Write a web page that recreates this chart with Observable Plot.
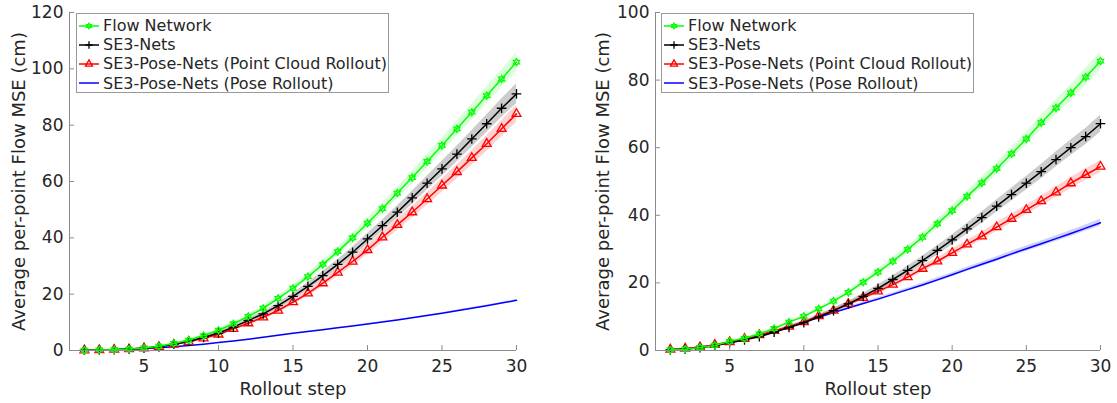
<!DOCTYPE html>
<html><head><meta charset="utf-8">
<script src="https://cdn.jsdelivr.net/npm/d3@7"></script>
<script src="https://cdn.jsdelivr.net/npm/@observablehq/plot@0.6"></script>
<style>
body{margin:0;background:#fff;font-family:"DejaVu Sans",sans-serif;}
#wrap{position:relative;width:1117px;height:403px;display:flex;overflow:hidden;}
.legend{position:absolute;top:13px;width:311px;height:76px;border:1px solid #999;background:#fff;font-size:16px;color:#262626;padding-top:2px;}
.legend .row{height:19.2px;display:flex;align-items:center;white-space:nowrap;}
.legend svg{width:26px;height:16px;flex:none;}
</style></head><body><div id="wrap"></div>
<script>
// ---------- data ----------
const steps = [1,2,3,4,5,6,7,8,9,10,11,12,13,14,15,16,17,18,19,20,21,22,23,24,25,26,27,28,29,30];
const seriesNames = ["Flow Network","SE3-Nets","SE3-Pose-Nets (Point Cloud Rollout)","SE3-Pose-Nets (Pose Rollout)"];
const xTicks = [5,10,15,20,25,30];
const yTicksLeft = [0,20,40,60,80,100,120];
const yTicksRight = [0,20,40,60,80,100];

// left panel
const leftFlow    = [0.1,0.2,0.3,0.5,0.9,1.5,2.5,3.7,5.3,7.2,9.5,12.1,15.0,18.5,22.1,26.2,30.6,35.1,40.0,45.2,50.4,55.9,61.4,67.1,72.8,78.7,84.6,90.5,96.4,102.4];
const leftFlowStd = [0.05,0.05,0.1,0.1,0.15,0.2,0.25,0.3,0.4,0.5,0.6,0.7,0.8,0.95,1.1,1.25,1.4,1.55,1.7,1.85,2.0,2.15,2.3,2.45,2.6,2.75,2.9,3.05,3.2,3.4];
const leftSE3     = [0.1,0.2,0.3,0.5,0.8,1.3,2.2,3.3,4.6,6.2,8.3,10.7,13.0,15.9,19.2,22.8,26.6,30.6,34.9,39.6,44.3,49.1,54.2,59.4,64.5,69.7,75.1,80.5,86.0,91.1];
const leftSE3Std  = [0.05,0.05,0.1,0.1,0.15,0.2,0.25,0.3,0.4,0.5,0.6,0.7,0.85,1.0,1.15,1.3,1.45,1.6,1.75,1.9,2.05,2.2,2.35,2.5,2.65,2.8,2.95,3.1,3.3,3.5];
const leftPC      = [0.1,0.2,0.3,0.5,0.8,1.3,2.1,3.1,4.3,5.7,7.7,9.7,11.8,14.2,17.2,20.3,23.9,27.7,31.6,35.7,40.2,44.6,49.1,53.8,58.6,63.4,68.4,73.4,78.7,84.0];
const leftPCStd   = [0.05,0.05,0.1,0.1,0.15,0.2,0.25,0.3,0.35,0.45,0.55,0.65,0.75,0.85,1.0,1.1,1.25,1.4,1.55,1.7,1.85,2.0,2.1,2.25,2.4,2.5,2.6,2.75,2.9,3.0];
const leftPose    = [0.05,0.15,0.3,0.45,0.7,1.0,1.35,1.75,2.25,2.8,3.4,4.0,4.7,5.4,6.1,6.75,7.4,8.05,8.7,9.4,10.1,10.85,11.6,12.4,13.2,14.1,15.0,15.9,16.85,17.8];
const leftPoseStd = [0.02,0.02,0.03,0.03,0.04,0.05,0.05,0.06,0.07,0.08,0.09,0.1,0.11,0.12,0.13,0.14,0.15,0.16,0.17,0.18,0.19,0.2,0.21,0.22,0.23,0.24,0.25,0.26,0.28,0.3];

// right panel
const rightFlow    = [0.2,0.4,0.9,1.5,2.7,3.6,4.9,6.5,8.4,10.1,12.3,14.6,17.2,20.2,23.2,26.4,29.9,33.5,37.5,41.4,45.6,49.6,53.8,58.2,62.6,67.4,71.8,76.2,80.9,85.6];
const rightFlowStd = [0.05,0.1,0.1,0.15,0.2,0.25,0.3,0.35,0.4,0.5,0.6,0.7,0.8,0.9,1.0,1.1,1.2,1.3,1.4,1.5,1.6,1.7,1.8,1.9,2.05,2.2,2.3,2.45,2.6,2.7];
const rightSE3     = [0.2,0.4,0.8,1.4,2.3,3.1,4.1,5.4,6.8,8.2,9.9,11.8,13.8,16.0,18.4,21.0,23.7,26.6,29.6,32.7,36.0,39.3,42.7,46.1,49.5,52.9,56.5,60.0,63.3,67.1];
const rightSE3Std  = [0.05,0.1,0.1,0.15,0.2,0.25,0.3,0.35,0.4,0.5,0.6,0.7,0.8,0.9,1.0,1.1,1.2,1.3,1.4,1.5,1.6,1.7,1.8,1.9,2.0,2.1,2.2,2.3,2.4,2.5];
const rightPC      = [0.3,0.6,1.0,1.7,2.5,3.5,4.6,5.8,7.1,8.4,10.2,11.8,13.8,15.6,17.5,19.5,21.7,24.2,26.4,28.9,31.4,33.8,36.5,39.0,41.6,44.2,46.8,49.5,52.0,54.4];
const rightPCStd   = [0.05,0.1,0.1,0.15,0.2,0.25,0.3,0.35,0.4,0.45,0.5,0.55,0.6,0.7,0.75,0.8,0.9,0.95,1.0,1.1,1.15,1.2,1.3,1.35,1.4,1.5,1.55,1.65,1.7,1.8];
const rightPose    = [0.2,0.5,1.0,1.6,2.4,3.3,4.4,5.6,6.9,8.4,9.8,11.2,12.6,13.9,15.2,16.6,18.0,19.4,20.9,22.4,24.0,25.5,27.0,28.6,30.1,31.6,33.1,34.6,36.2,37.8];
const rightPoseStd = [0.05,0.05,0.1,0.1,0.15,0.15,0.2,0.2,0.25,0.3,0.3,0.35,0.4,0.4,0.45,0.5,0.5,0.55,0.6,0.6,0.65,0.7,0.7,0.75,0.8,0.8,0.85,0.9,0.95,1.0];

// ---------- styles ----------
const colors = ["#00ff00","#000000","#ff0000","#0000ff"];
const bandOpacity = [0.15,0.2,0.18,0.18];
const markerR = [3.2, 3.2, 3.3, 0];
const AXIS = "#8c8c8c", TEXT = "#262626";

// open hexagram symbol (MATLAB 'h')
const hexagram = {
  draw(ctx, size) {
    const R = Math.sqrt(size / Math.PI) * 1.1, r = R / Math.sqrt(3);
    for (let i = 0; i < 12; i++) {
      const a = -Math.PI / 2 + i * Math.PI / 6, rr = i % 2 ? r : R;
      const px = rr * Math.cos(a), py = rr * Math.sin(a);
      i ? ctx.lineTo(px, py) : ctx.moveTo(px, py);
    }
    ctx.closePath();
  }
};
const symbols = [hexagram, "plus", "triangle", null];

function rows(mean, std) {
  return steps.map((s, i) => ({step: s, v: mean[i], lo: mean[i] - std[i], hi: mean[i] + std[i]}));
}

function panel({width, ml, mr, ymax, yTicks, series, ylabelDx}) {
  const marks = [];
  const order = [3, 2, 1, 0];
  for (const k of order) {
    marks.push(Plot.areaY(series[k], {x: "step", y1: "lo", y2: "hi", fill: colors[k], fillOpacity: bandOpacity[k]}));
  }
  for (const k of order) {
    marks.push(Plot.lineY(series[k], {x: "step", y: "v", stroke: colors[k], strokeWidth: 1.5}));
    if (symbols[k]) marks.push(Plot.dot(series[k], {x: "step", y: "v", symbol: symbols[k], r: markerR[k], stroke: colors[k], fill: "none", strokeWidth: 1.3}));
  }
  marks.push(
    Plot.ruleX([0], {stroke: AXIS}),
    Plot.ruleY([0], {stroke: AXIS}),
    Plot.axisX({ticks: xTicks, tickSize: -5, tickPadding: 14, stroke: AXIS, fill: TEXT, fontSize: 17, label: null}),
    Plot.axisY({ticks: yTicks, tickSize: -5, tickPadding: 11, stroke: AXIS, fill: TEXT, fontSize: 17, label: null}),
    Plot.text(["Rollout step"], {frameAnchor: "bottom", lineAnchor: "middle", textAnchor: "middle", dy: 39, fontSize: 18, fill: TEXT}),
    Plot.text(["Average per-point Flow MSE (cm)"], {frameAnchor: "left", textAnchor: "middle", lineAnchor: "middle", rotate: -90, dx: ylabelDx, fontSize: 18, fill: TEXT})
  );
  return Plot.plot({
    width, height: 403,
    marginLeft: ml, marginRight: mr, marginTop: 12, marginBottom: 53,
    style: {fontFamily: "DejaVu Sans", fontSize: "17px", color: TEXT, background: "white", overflow: "visible"},
    x: {domain: [0, 30]},
    y: {domain: [0, ymax]},
    marks
  });
}

const wrap = document.getElementById("wrap");
const leftSeries = [rows(leftFlow, leftFlowStd), rows(leftSE3, leftSE3Std), rows(leftPC, leftPCStd), rows(leftPose, leftPoseStd)];
const rightSeries = [rows(rightFlow, rightFlowStd), rows(rightSE3, rightSE3Std), rows(rightPC, rightPCStd), rows(rightPose, rightPoseStd)];
wrap.appendChild(panel({width: 560, ml: 69, mr: 44, ymax: 120, yTicks: yTicksLeft, series: leftSeries, ylabelDx: -50}));
wrap.appendChild(panel({width: 557, ml: 95, mr: 17, ymax: 100, yTicks: yTicksRight, series: rightSeries, ylabelDx: -52}));

function legend(left) {
  const box = document.createElement("div");
  box.className = "legend";
  box.style.left = left + "px";
  seriesNames.forEach((name, k) => {
    const row = document.createElement("div");
    row.className = "row";
    const ns = "http://www.w3.org/2000/svg";
    const svg = document.createElementNS(ns, "svg");
    const line = document.createElementNS(ns, "line");
    line.setAttribute("x1", 2); line.setAttribute("x2", 22); line.setAttribute("y1", 8); line.setAttribute("y2", 8);
    line.setAttribute("stroke", colors[k]); line.setAttribute("stroke-width", 1.5);
    svg.appendChild(line);
    if (symbols[k]) {
      const p = document.createElementNS(ns, "path");
      const sym = symbols[k] === "plus" ? d3.symbolPlus : symbols[k] === "triangle" ? d3.symbolTriangle : hexagram;
      p.setAttribute("d", d3.symbol(sym, (markerR[k] * 0.8) ** 2 * Math.PI)());
      p.setAttribute("transform", "translate(12,8)");
      p.setAttribute("stroke", colors[k]); p.setAttribute("fill", "none"); p.setAttribute("stroke-width", 1.3);
      svg.appendChild(p);
    }
    row.appendChild(svg);
    const t = document.createElement("span");
    t.textContent = name;
    row.appendChild(t);
    box.appendChild(row);
  });
  wrap.appendChild(box);
}
legend(76);
legend(661);
</script></body></html>
